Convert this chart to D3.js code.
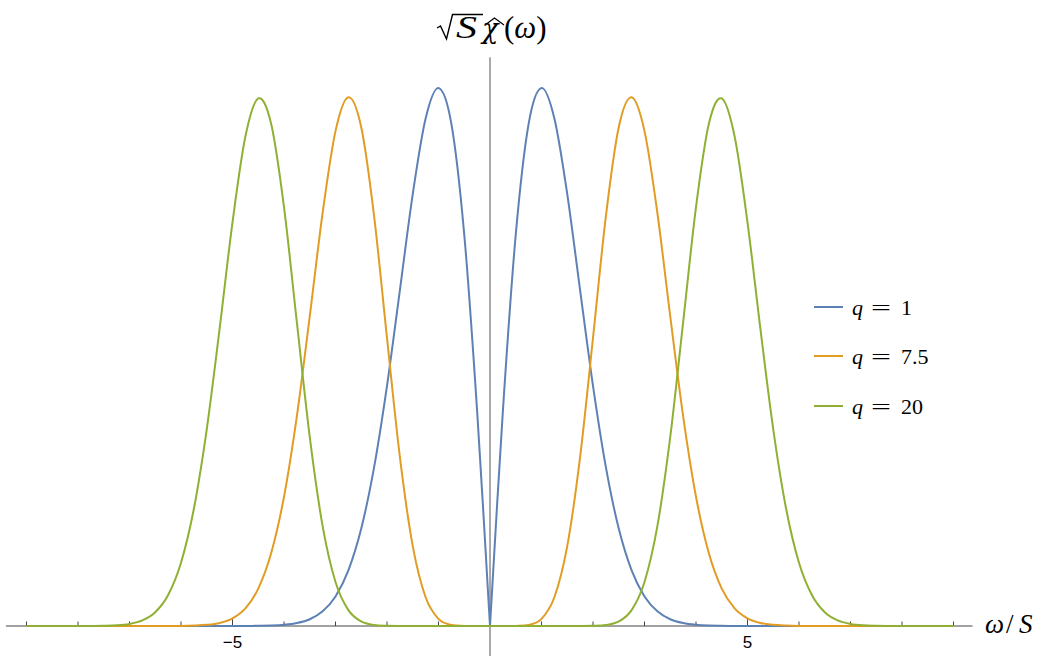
<!DOCTYPE html>
<html>
<head>
<meta charset="utf-8">
<script src="https://cdn.jsdelivr.net/npm/d3@7/dist/d3.min.js"></script>
<style>
  body { margin: 0; background: #fff; }
  .math { font-family: "Liberation Serif", "Times New Roman", serif; fill: #000; }
  .it { font-style: italic; }
  .tick text { font-family: "Liberation Sans", Arial, sans-serif; font-size: 17px; }
</style>
</head>
<body>
<svg id="chart" width="1044" height="656"></svg>
<script>
// omega/S grid (positive half, the plot is symmetric in omega)
var omega = [0, 0.25, 0.5, 0.75, 1, 1.25, 1.5, 1.75, 2, 2.25, 2.5, 2.75, 3, 3.25, 3.5, 3.75,
             4, 4.25, 4.5, 4.75, 5, 5.25, 5.5, 5.75, 6, 6.25, 6.5, 6.75, 7, 7.25, 7.5, 7.75,
             8, 8.25, 8.5, 8.75, 9];

// sqrt(S) chi-hat values, one per omega
var chiQ1 = [0, 0.2574, 0.4687, 0.6014, 0.6443, 0.6079, 0.5173, 0.4020, 0.2875, 0.1902, 0.1167, 0.0666,
             0.0354, 0.0176, 0.0081, 0.0035, 0.0014, 0.0005, 0.0002, 0.0001, 0, 0, 0, 0, 0, 0, 0, 0,
             0, 0, 0, 0, 0, 0, 0, 0, 0];
var chiQ75 = [0, 0, 0.0001, 0.0012, 0.0085, 0.0344, 0.0957, 0.2025, 0.3450, 0.4907, 0.5973, 0.6332,
              0.5927, 0.4946, 0.3708, 0.2514, 0.1548, 0.0870, 0.0447, 0.0211, 0.0092, 0.0037, 0.0014,
              0.0005, 0.0001, 0, 0, 0, 0, 0, 0, 0, 0, 0, 0, 0, 0];
var chiQ20 = [0, 0, 0, 0, 0, 0, 0, 0, 0.0002, 0.0012, 0.0054, 0.0190, 0.0527, 0.1196, 0.2264, 0.3635,
              0.5017, 0.6014, 0.6318, 0.5862, 0.4834, 0.3561, 0.2356, 0.1404, 0.0757, 0.0371, 0.0165,
              0.0067, 0.0025, 0.0008, 0.0003, 0.0001, 0, 0, 0, 0, 0];

var seriesNames = ["1", "7.5", "20"];
var seriesColors = ["#5E81B5", "#E19C24", "#8FB032"];
var seriesValues = [chiQ1, chiQ75, chiQ20];

var tickValues = [-9, -8, -7, -6, -5, -4, -3, -2, -1, 1, 2, 3, 4, 5, 6, 7, 8, 9];
var labelTicks = [-5, 5];

var svg = d3.select("#chart");

var x = d3.scaleLinear().domain([-9, 9]).range([26.5, 953.5]);
var y = d3.scaleLinear().domain([0, 0.7]).range([626, 41.5]);

/* axes (behind the curves) */
svg.append("line")
    .attr("x1", x(-9.4)).attr("x2", x(9.37))
    .attr("y1", y(0)).attr("y2", y(0))
    .attr("stroke", "#444").attr("stroke-width", 1);
svg.append("line")
    .attr("x1", x(0)).attr("x2", x(0))
    .attr("y1", y(0.681)).attr("y2", y(-0.036))
    .attr("stroke", "#555").attr("stroke-width", 1);

// ticks point up into the plot, the labelled ones are a bit longer
var ticks = svg.append("g").attr("class", "tick");
ticks.selectAll("line").data(tickValues).enter().append("line")
    .attr("x1", d => x(d)).attr("x2", d => x(d))
    .attr("y1", y(0))
    .attr("y2", d => y(0) - (labelTicks.indexOf(d) >= 0 ? 7 : 4.5))
    .attr("stroke", "#444").attr("stroke-width", 1);
ticks.selectAll("text").data(labelTicks).enter().append("text")
    .attr("x", d => x(d)).attr("y", 648)
    .attr("text-anchor", "middle")
    .text(d => d < 0 ? "\u2212" + Math.abs(d) : d);

/* curves: each drawn as two halves so the cusp at 0 stays sharp */
var line = d3.line()
    .x(d => x(d[0]))
    .y(d => y(d[1]))
    .curve(d3.curveCatmullRom.alpha(0));

seriesValues.forEach(function(vals, k) {
    var right = omega.map((w, i) => [w, vals[i]]);
    var left = omega.map((w, i) => [-w, vals[i]]);
    [left, right].forEach(function(pts) {
        svg.append("path")
            .attr("d", line(pts))
            .attr("fill", "none")
            .attr("stroke", seriesColors[k])
            .attr("stroke-width", 2)
            .attr("stroke-linejoin", "round");
    });
});

/* axis labels */
// top: sqrt(S) chi-hat(omega), radical and hat drawn as strokes
svg.append("path")
    .attr("d", "M437,28 L440.5,26 L446.5,39 L452.5,14.5 L483,14.5")
    .attr("fill", "none").attr("stroke", "#000").attr("stroke-width", 1.4);
svg.append("text").attr("class", "math it").attr("x", 456).attr("y", 38)
    .style("font-size", "31px")
    .attr("textLength", 21).attr("lengthAdjust", "spacingAndGlyphs").text("S");
svg.append("text").attr("class", "it").attr("x", 482).attr("y", 38)
    .style("font-family", "'DejaVu Serif', serif").style("font-size", "27px")
    .text("\u03C7");
var yLabel = svg.append("text").attr("class", "math").attr("x", 504).attr("y", 38)
    .style("font-size", "31px");
yLabel.append("tspan").text("(");
yLabel.append("tspan").attr("class", "it").text("\u03C9");
yLabel.append("tspan").text(")");
svg.append("path")
    .attr("d", "M485,25 L494.5,18 L504,25")
    .attr("fill", "none").attr("stroke", "#000").attr("stroke-width", 1.2);

// right: omega / S
var xLabel = svg.append("text").attr("class", "math").attr("y", 633).style("font-size", "27px");
xLabel.append("tspan").attr("class", "it").attr("x", 985).text("\u03C9");
xLabel.append("tspan").attr("x", 1006).text("/");
xLabel.append("tspan").attr("class", "it").attr("x", 1019).text("S");

/* legend */
var legend = svg.append("g").attr("class", "math").style("font-size", "22px");
var legY = [307, 356, 406];
seriesNames.forEach(function(name, k) {
    legend.append("line")
        .attr("x1", 814).attr("x2", 843)
        .attr("y1", legY[k]).attr("y2", legY[k])
        .attr("stroke", seriesColors[k]).attr("stroke-width", 2);
    legend.append("text").attr("class", "it").attr("x", 852).attr("y", legY[k] + 8).text("q");
    legend.append("text").attr("x", 871).attr("y", legY[k] + 8)
        .attr("textLength", 20).attr("lengthAdjust", "spacingAndGlyphs").text("=");
    legend.append("text").attr("x", 901).attr("y", legY[k] + 8).text(name);
});
</script>
</body>
</html>
